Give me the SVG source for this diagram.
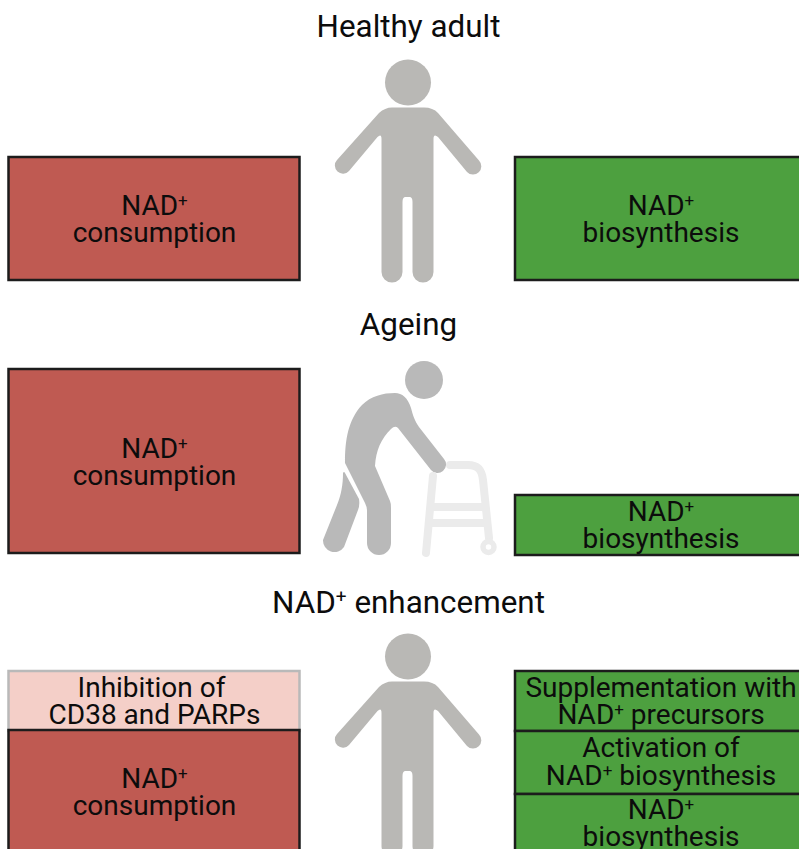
<svg xmlns="http://www.w3.org/2000/svg" width="799" height="849" viewBox="0 0 799 849">
<style>
text{font-family:Roboto,"Liberation Sans",sans-serif;font-size:28px;fill:#0c0c0c;text-anchor:middle}
.sup{font-size:17px}
.t{font-size:31.400px}
.box{stroke:#1c1c1c;stroke-width:2.500}
.red{fill:#bf5a52}
.green{fill:#4da03f}
.p{fill:#b9b8b5}
.o{fill:#b9b9b9}
.w{fill:none;stroke:#ebebeb;stroke-width:8;stroke-linecap:round;stroke-linejoin:round}
</style>
<defs>
<g id="person">
<circle cx="408" cy="82.500" r="23"/>
<path d="M392 107.500H424Q433 107.500 438 113L479 160.500A8 8 0 0 1 467 172L438 137Q433.500 133 433.500 139V272A10.500 10.500 0 0 1 412.500 272V202Q412.500 197 409.500 197H405.500Q402.500 197 402.500 202V272A10.500 10.500 0 0 1 381.500 272V139Q381.500 133 377.500 137L349 171A8 8 0 0 1 337 160L379 113Q385 107.500 392 107.500Z"/>
</g>
</defs>
<g id="connectors"/>
<g id="healthy">
<text class="t" x="408.500" y="37">Healthy adult</text>
<use href="#person" class="p"/>
</g>
<g id="healthy-consumption">
<rect class="box red" x="8.500" y="157" width="291" height="123"/>
<text x="154.500" y="214.800">NAD<tspan class="sup" dy="-9">+</tspan></text>
<text x="154.500" y="241.800">consumption</text>
</g>
<g id="healthy-biosynthesis">
<rect class="box green" x="515" y="157" width="290" height="123"/>
<text x="661" y="214.800">NAD<tspan class="sup" dy="-9">+</tspan></text>
<text x="661" y="241.800">biosynthesis</text>
</g>
<g id="ageing">
<text class="t" x="408.500" y="335">Ageing</text>
<circle class="o" cx="424" cy="380" r="19"/>
<path class="o" d="M395 393C402 393 408 398 411 408C413 416 415 421 419 427L444 459A8.500 8.500 0 0 1 431 470L398 428Q395 425 391 429C381 439 376 450 375 466L390 501Q391 503 391 508V543A12 12 0 0 1 367 543V511Q367 507 365 503L345 463C345 440 348 420 362 405C371 396 383 393 395 393Z"/>
<path class="o" d="M343 473Q344 471 345 473L359 499Q360 505 358 510L344 547A11.500 11.500 0 0 1 323 540L337 505C341 495 343 485 343 473Z"/>
<path class="w" d="M450 465H468C478 465 482 470 483 480L489 538M433 476L426 553M433 507H483M433 523H485"/>
<circle cx="488.500" cy="547" r="5.500" fill="none" stroke="#ebebeb" stroke-width="5.500"/>
</g>
<g id="ageing-consumption">
<rect class="box red" x="8.500" y="369" width="291" height="184"/>
<text x="154.500" y="457.800">NAD<tspan class="sup" dy="-9">+</tspan></text>
<text x="154.500" y="484.800">consumption</text>
</g>
<g id="ageing-biosynthesis">
<rect class="box green" x="515" y="495" width="290" height="60"/>
<text x="661" y="520.800">NAD<tspan class="sup" dy="-9">+</tspan></text>
<text x="661" y="547.800">biosynthesis</text>
</g>
<g id="enhancement">
<text class="t" x="408.500" y="613">NAD<tspan class="sup" dy="-10" style="font-size:19px">+</tspan><tspan dy="10"> enhancement</tspan></text>
<use href="#person" class="p" y="574"/>
</g>
<g id="inhibition">
<rect x="8.500" y="671" width="291" height="60" fill="#f4cfc8" stroke="#b9b9b9" stroke-width="2.500"/>
<text x="151.500" y="696.800">Inhibition of</text>
<text x="154.500" y="723.800">CD38 and PARPs</text>
</g>
<g id="enhancement-consumption">
<rect class="box red" x="8.500" y="730" width="291" height="130"/>
<text x="154.500" y="787.800">NAD<tspan class="sup" dy="-9">+</tspan></text>
<text x="154.500" y="814.800">consumption</text>
</g>
<g id="supplementation">
<rect class="box green" x="515" y="671" width="290" height="60"/>
<text x="661" y="696.800">Supplementation with</text>
<text x="661" y="723.800">NAD<tspan class="sup" dy="-9">+</tspan><tspan dy="9"> precursors</tspan></text>
</g>
<g id="activation">
<rect class="box green" x="515" y="731" width="290" height="63"/>
<text x="661" y="756.800">Activation of</text>
<text x="661" y="784.800">NAD<tspan class="sup" dy="-9">+</tspan><tspan dy="9"> biosynthesis</tspan></text>
</g>
<g id="enhancement-biosynthesis">
<rect class="box green" x="515" y="794" width="290" height="70"/>
<text x="661" y="818.800">NAD<tspan class="sup" dy="-9">+</tspan></text>
<text x="661" y="845.800">biosynthesis</text>
</g>
</svg>
